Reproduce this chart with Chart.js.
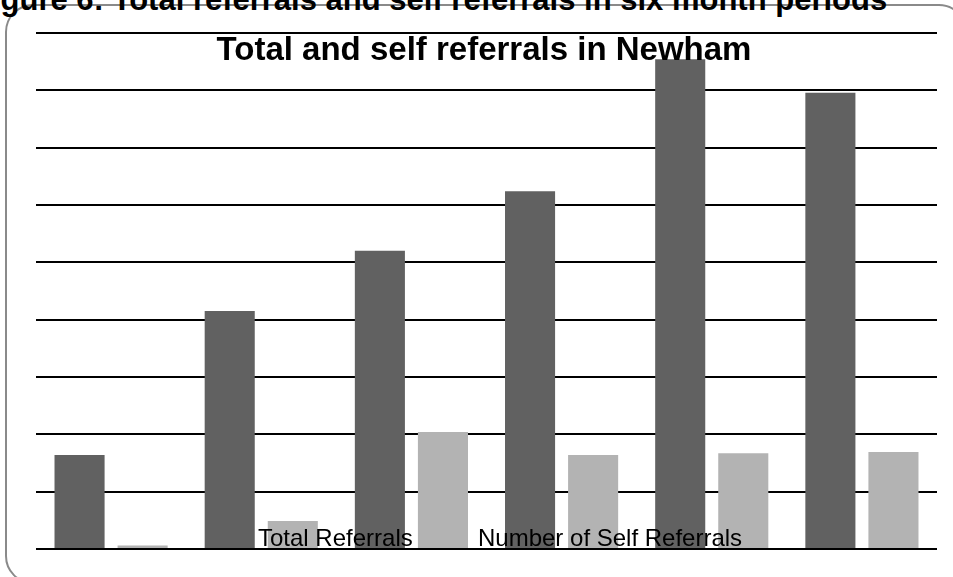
<!DOCTYPE html>
<html>
<head>
<meta charset="utf-8">
<script src="https://cdn.jsdelivr.net/npm/chart.js@4"></script>
<style>
  html, body { margin: 0; padding: 0; background: #fff; }
  body { width: 953px; height: 577px; overflow: hidden; position: relative; }
  .frame {
    position: absolute; left: 5px; top: 4px; width: 958px; height: 576px;
    border: 2px solid #8a8a8a; border-radius: 28px;
  }
  .caption {
    position: absolute; left: -27px; top: -16px; white-space: nowrap;
    font: bold 31px/31px "Liberation Sans", sans-serif; color: #000;
  }
  canvas { position: absolute; left: 0; top: 0; }
</style>
</head>
<body>
<div class="frame"></div>
<div class="caption">Figure 6: Total referrals and self referrals in six month periods</div>
<canvas id="chart" width="953" height="577"></canvas>
<script>
const periods = ["Period 1", "Period 2", "Period 3", "Period 4", "Period 5", "Period 6"];
const totalReferrals = [164, 415, 520, 624, 854, 796];
const selfReferrals = [6, 49, 204, 164, 167, 169];
const yTicks = [0, 100, 200, 300, 400, 500, 600, 700, 800, 900];

const darkGrey = "#616161";
const lightGrey = "#b3b3b3";

// title + legend sit inside the plot, over the bars
const overlay = {
  id: "overlay",
  afterDraw(chart) {
    const ctx = chart.ctx;
    ctx.save();
    ctx.fillStyle = "#000";
    ctx.textBaseline = "alphabetic";
    ctx.font = 'bold 33px "Liberation Sans Narrow", sans-serif';
    ctx.textAlign = "center";
    ctx.fillText("Total and self referrals in Newham", 484, 60);

    ctx.font = '24px "Liberation Sans", sans-serif';
    ctx.textAlign = "left";
    const ds = chart.data.datasets;
    ctx.fillText(ds[0].label, 258, 546);
    ctx.fillText(ds[1].label, 478, 546);
    ctx.restore();
  },
};

new Chart(document.getElementById("chart"), {
  type: "bar",
  data: {
    labels: periods,
    datasets: [
      {
        label: "Total Referrals",
        data: totalReferrals,
        backgroundColor: darkGrey,
      },
      {
        label: "Number of Self Referrals",
        data: selfReferrals,
        backgroundColor: lightGrey,
      },
    ],
  },
  options: {
    responsive: false,
    animation: false,
    categoryPercentage: 0.84,
    barPercentage: 0.794,
    layout: { padding: { left: 36, right: 16, top: 33, bottom: 20 } },
    plugins: {
      legend: { display: false },
      title: { display: false },
      tooltip: { enabled: false },
    },
    scales: {
      x: {
        grid: { display: false },
        border: { display: false },
        ticks: { display: false },
      },
      y: {
        min: yTicks[0],
        max: yTicks[yTicks.length - 1],
        afterBuildTicks: (axis) => {
          axis.ticks = yTicks.map((v) => ({ value: v }));
        },
        grid: { color: "#000", lineWidth: 2, drawTicks: false },
        border: { display: false },
        ticks: { display: false },
      },
    },
  },
  plugins: [overlay],
});
</script>
</body>
</html>
